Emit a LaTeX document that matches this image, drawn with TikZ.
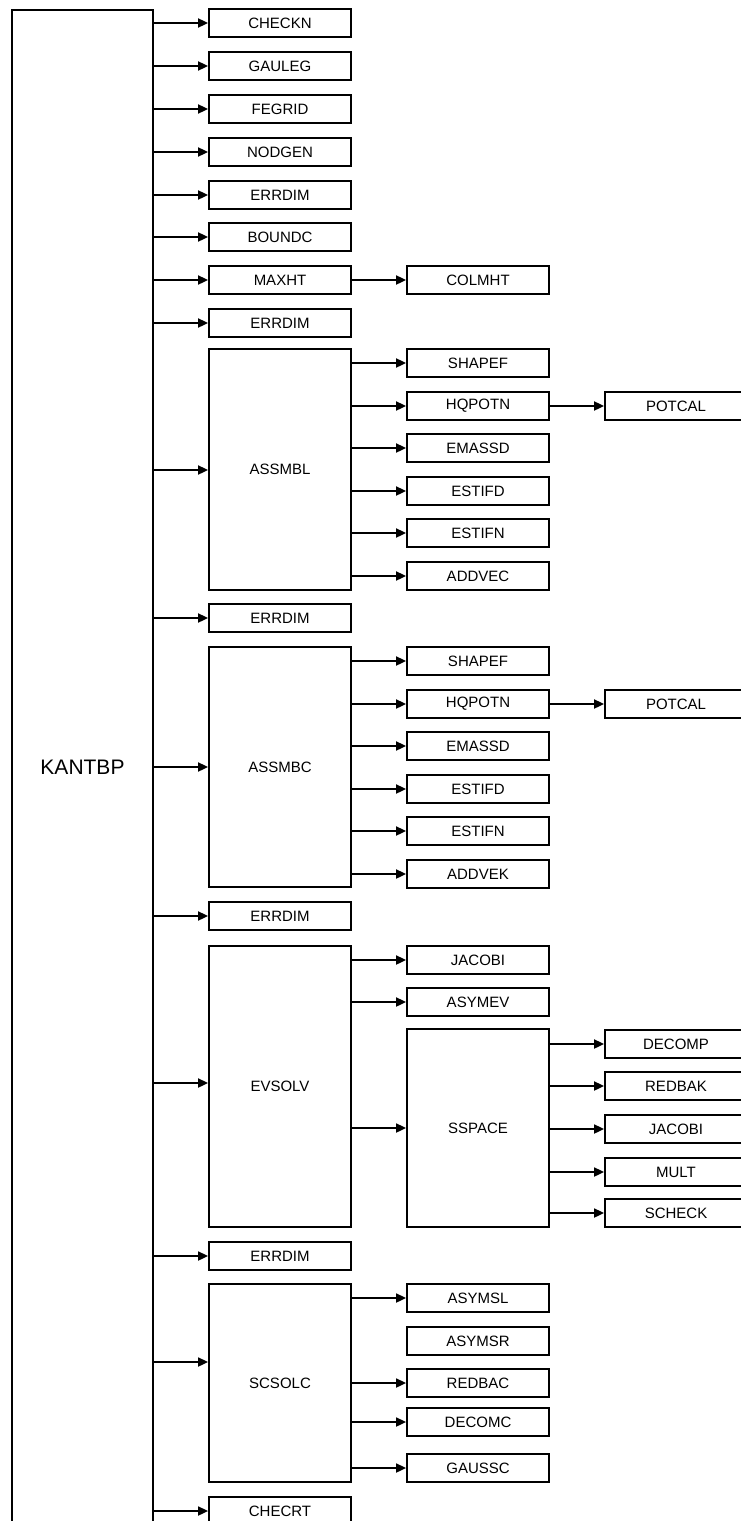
\documentclass[tikz,border=0pt]{standalone}
\usepackage{fontspec}
\setmainfont{Liberation Sans}
\usetikzlibrary{arrows.meta}
\begin{document}
\begin{tikzpicture}[x=1pt,y=-1pt,
  box/.style={draw, line width=1.8pt, minimum width=142pt, minimum height=28pt, inner sep=0pt, font=\fontsize{15}{18}\selectfont},
  arr/.style={line width=1.8pt, -{Triangle[length=10pt,width=9pt]}}]
\useasboundingbox (0,0) rectangle (741,1521);
\clip (0,0) rectangle (741,1521);
% main box
\node[box, minimum width=141pt, minimum height=1514pt, font=\fontsize{21}{25}\selectfont] (kantbp) at (82.5,767) {KANTBP};
% level 1
\node[box] (checkn) at (280,23) {CHECKN};
\node[box] (gauleg) at (280,66) {GAULEG};
\node[box] (fegrid) at (280,109) {FEGRID};
\node[box] (nodgen) at (280,152) {NODGEN};
\node[box] (errdimA) at (280,195) {ERRDIM};
\node[box] (boundc) at (280,237) {BOUNDC};
\node[box] (maxht) at (280,280) {MAXHT};
\node[box] (errdimB) at (280,323) {ERRDIM};
\node[box, minimum height=241pt] (assmbl) at (280,469.5) {ASSMBL};
\node[box] (errdimC) at (280,618) {ERRDIM};
\node[box, minimum height=240pt] (assmbc) at (280,767) {ASSMBC};
\node[box] (errdimD) at (280,916) {ERRDIM};
\node[box, minimum height=281pt] (evsolv) at (280,1086.5) {EVSOLV};
\node[box] (errdimE) at (280,1256) {ERRDIM};
\node[box, minimum height=198pt] (scsolc) at (280,1383) {SCSOLC};
\node[box] (checrt) at (280,1511) {CHECRT};
% level 2
\node[box] (colmht) at (478,280) {COLMHT};
\node[box] (shapefA) at (478,363) {SHAPEF};
\node[box] (hqpotnA) at (478,406) {HQPOTN};
\node[box] (emassdA) at (478,448) {EMASSD};
\node[box] (estifdA) at (478,491) {ESTIFD};
\node[box] (estifnA) at (478,533) {ESTIFN};
\node[box] (addvec) at (478,576) {ADDVEC};
\node[box] (shapefB) at (478,661) {SHAPEF};
\node[box] (hqpotnB) at (478,704) {HQPOTN};
\node[box] (emassdB) at (478,746) {EMASSD};
\node[box] (estifdB) at (478,789) {ESTIFD};
\node[box] (estifnB) at (478,831) {ESTIFN};
\node[box] (addvek) at (478,874) {ADDVEK};
\node[box] (jacobiA) at (478,960) {JACOBI};
\node[box] (asymev) at (478,1002) {ASYMEV};
\node[box, minimum height=198pt] (sspace) at (478,1128) {SSPACE};
\node[box] (asymsl) at (478,1298) {ASYMSL};
\node[box] (asymsr) at (478,1341) {ASYMSR};
\node[box] (redbac) at (478,1383) {REDBAC};
\node[box] (decomc) at (478,1422) {DECOMC};
\node[box] (gaussc) at (478,1468) {GAUSSC};
% level 3
\node[box] (potcalA) at (676,406) {POTCAL};
\node[box] (potcalB) at (676,704) {POTCAL};
\node[box] (decomp) at (676,1044) {DECOMP};
\node[box] (redbak) at (676,1086) {REDBAK};
\node[box] (jacobiB) at (676,1129) {JACOBI};
\node[box] (mult) at (676,1172) {MULT};
\node[box] (scheck) at (676,1213) {SCHECK};
% connectors from KANTBP
\foreach \n in {checkn,gauleg,fegrid,nodgen,errdimA,boundc,maxht,errdimB,errdimC,assmbc,errdimD,errdimE,checrt}
  \draw[arr] (kantbp.east |- \n.west) -- (\n.west);
\draw[arr] (kantbp.east |- 0,470) -- (assmbl.west |- 0,470);
\draw[arr] (kantbp.east |- 0,1083) -- (evsolv.west |- 0,1083);
\draw[arr] (kantbp.east |- 0,1362) -- (scsolc.west |- 0,1362);
% level 1 -> level 2
\draw[arr] (maxht) -- (colmht);
\foreach \n in {shapefA,hqpotnA,emassdA,estifdA,estifnA,addvec}
  \draw[arr] (assmbl.east |- \n.west) -- (\n.west);
\foreach \n in {shapefB,hqpotnB,emassdB,estifdB,estifnB,addvek}
  \draw[arr] (assmbc.east |- \n.west) -- (\n.west);
\foreach \n in {jacobiA,asymev,sspace}
  \draw[arr] (evsolv.east |- \n.west) -- (\n.west);
\foreach \n in {asymsl,redbac,decomc,gaussc}
  \draw[arr] (scsolc.east |- \n.west) -- (\n.west);
% level 2 -> level 3
\draw[arr] (hqpotnA) -- (potcalA);
\draw[arr] (hqpotnB) -- (potcalB);
\foreach \n in {decomp,redbak,jacobiB,mult,scheck}
  \draw[arr] (sspace.east |- \n.west) -- (\n.west);
\end{tikzpicture}
\end{document}
